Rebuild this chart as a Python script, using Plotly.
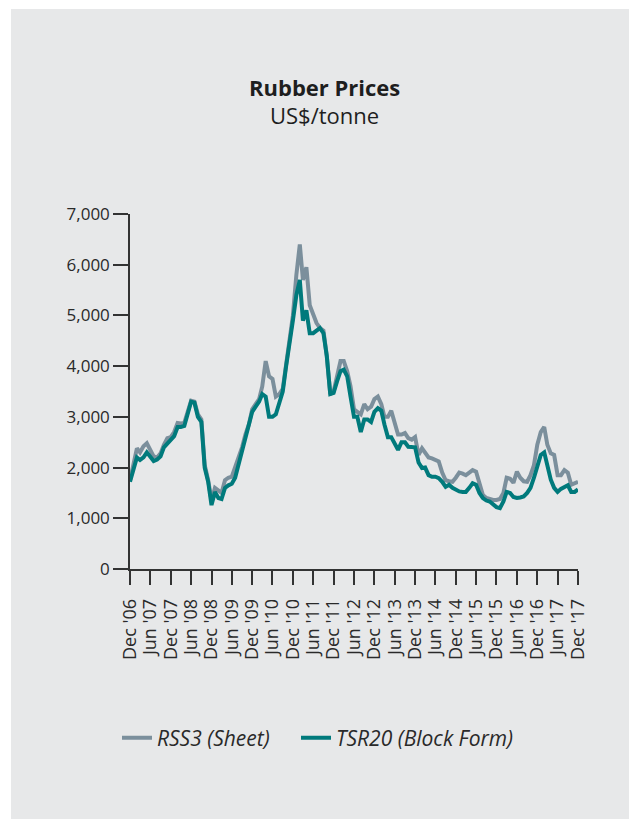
import plotly.graph_objects as go

# Monthly dates Dec 2006 .. Dec 2017
months = []
for y in range(2006, 2018):
    for mo in range(1, 13):
        if y == 2006 and mo < 12:
            continue
        months.append(f"{y}-{mo:02d}-01")

rss3 = [1750, 2050, 2380, 2300, 2420, 2480, 2350, 2220, 2200, 2280,
        2450, 2580, 2600, 2700, 2880, 2870, 2880, 3100, 3320, 3300,
        3050, 2950, 2050, 1750, 1350, 1600, 1550, 1500, 1750, 1800,
        1820, 2000, 2200, 2400, 2650, 2850, 3150, 3250, 3350, 3600,
        4100, 3800, 3750, 3400, 3450, 3550, 4000, 4500, 5000, 5800,
        6400, 5700, 5950, 5200, 5000, 4850, 4750, 4700, 4200, 3450,
        3500, 3800, 4100, 4100, 3900, 3600, 3150, 3100, 3050, 3250,
        3150, 3200, 3350, 3400, 3250, 3000, 3000, 3120, 2850, 2650,
        2650, 2680, 2580, 2550, 2600, 2250, 2380, 2300, 2200, 2180,
        2150, 2120, 1900, 1750, 1730, 1720, 1800, 1900, 1880, 1850,
        1900, 1950, 1920, 1700, 1460, 1400, 1370, 1360, 1360, 1380,
        1500, 1800, 1780, 1700, 1920, 1800, 1730, 1720, 1850, 2050,
        2450, 2700, 2800, 2450, 2280, 2250, 1850, 1850, 1950, 1900,
        1660, 1690, 1720]

tsr20 = [1720, 1950, 2200, 2150, 2200, 2300, 2220, 2130, 2160, 2220,
         2400, 2480, 2530, 2620, 2800, 2800, 2820, 3050, 3300, 3280,
         3000, 2900, 2000, 1720, 1260, 1520, 1400, 1380, 1600, 1650,
         1680, 1800, 2050, 2300, 2550, 2800, 3100, 3200, 3300, 3450,
         3400, 3000, 3000, 3050, 3300, 3500, 4000, 4400, 4900, 5400,
         5700, 4900, 5100, 4650, 4650, 4700, 4750, 4650, 4200, 3450,
         3470, 3700, 3900, 3930, 3800, 3400, 3000, 3000, 2700, 2950,
         2950, 2900, 3100, 3170, 3120, 2850, 2600, 2600, 2450, 2350,
         2500, 2500, 2410, 2410, 2400, 2100, 1990, 2000, 1850, 1820,
         1820, 1790, 1720, 1620, 1660, 1600, 1560, 1530, 1520, 1520,
         1600, 1690, 1660, 1500, 1400, 1350, 1330, 1280, 1220, 1200,
         1330, 1520, 1500, 1420, 1400, 1410, 1430, 1500, 1600, 1800,
         2050, 2250, 2300, 2000, 1760, 1600, 1520, 1580, 1620, 1650,
         1520, 1520, 1570]

tick_vals = []
tick_text = []
for y in range(2006, 2018):
    for mo, lab in ((6, "Jun"), (12, "Dec")):
        if y == 2006 and mo == 6:
            continue
        tick_vals.append(f"{y}-{mo:02d}-01")
        tick_text.append(f"{lab} '{str(y)[2:]}")

y_ticks = [0, 1000, 2000, 3000, 4000, 5000, 6000, 7000]
y_text = ["0", "1,000", "2,000", "3,000", "4,000", "5,000", "6,000", "7,000"]

FONT = "Open Sans"
TXT = "#2a2a2a"

fig = go.Figure()
fig.add_trace(go.Scatter(x=months, y=rss3, mode="lines", name="<i>RSS3 (Sheet)</i>",
                         line=dict(color="#7b8f9c", width=4), legend="legend"))
fig.add_trace(go.Scatter(x=months, y=tsr20, mode="lines", name="<i>TSR20 (Block Form)</i>",
                         line=dict(color="#007a7c", width=4), legend="legend2"))

# page offset from default body margin
OFF = 8
FW, FH = 637 - OFF, 819 - OFF
# plot area in page px: x 130..578, y 214..569
L, T = 130 - OFF, 214 - OFF
W, H = 448, 355
R, B = FW - L - W, FH - T - H

def px_x(px):
    return (px - OFF - L) / W

def px_y(py):
    return (T + H - (py - OFF)) / H

fig.add_shape(type="rect", xref="paper", yref="paper",
              x0=px_x(11), x1=px_x(660), y0=px_y(840), y1=px_y(9),
              fillcolor="#e7e8e9", line=dict(width=0), layer="below")

fig.add_annotation(text="<b>Rubber Prices</b>", xref="paper", yref="paper",
                   x=px_x(324), y=px_y(87), showarrow=False,
                   font=dict(family="Open Sans", size=22, color="#1e1e1e"),
                   xanchor="center", yanchor="middle")
fig.add_annotation(text="US$/tonne", xref="paper", yref="paper",
                   x=px_x(324), y=px_y(115), showarrow=False,
                   font=dict(family="Open Sans", size=22, color="#1e1e1e"),
                   xanchor="center", yanchor="middle")

leg_common = dict(orientation="h", yanchor="middle",
                  font=dict(family="Open Sans", size=21, color=TXT),
                  bgcolor="rgba(0,0,0,0)", borderwidth=0)

fig.update_layout(
    width=FW, height=FH,
    margin=dict(l=L, r=R, t=T, b=B, autoexpand=False),
    paper_bgcolor="white",
    plot_bgcolor="rgba(0,0,0,0)",
    font=dict(family=FONT, color=TXT),
    showlegend=True,
    legend=dict(x=px_x(117), y=px_y(738), xanchor="left", **leg_common),
    legend2=dict(x=px_x(296), y=px_y(738), xanchor="left", **leg_common),
)
fig.update_xaxes(type="date", range=[months[0], months[-1]],
                 tickmode="array", tickvals=tick_vals, ticktext=tick_text,
                 tickangle=-90, ticks="outside", ticklen=14, tickwidth=1.5,
                 tickcolor="#333", showline=True, linecolor="#333", linewidth=1.5,
                 showgrid=False, zeroline=False,
                 tickfont=dict(family=FONT, size=18, color=TXT), ticklabelstandoff=7)
fig.update_yaxes(range=[0, 7000], tickmode="array", tickvals=y_ticks, ticktext=y_text,
                 ticks="outside", ticklen=15, tickwidth=1.5, tickcolor="#333",
                 showline=True, linecolor="#333", linewidth=1.5,
                 showgrid=False, zeroline=False,
                 tickfont=dict(family=FONT, size=17, color=TXT))

fig.write_html("out.html")
